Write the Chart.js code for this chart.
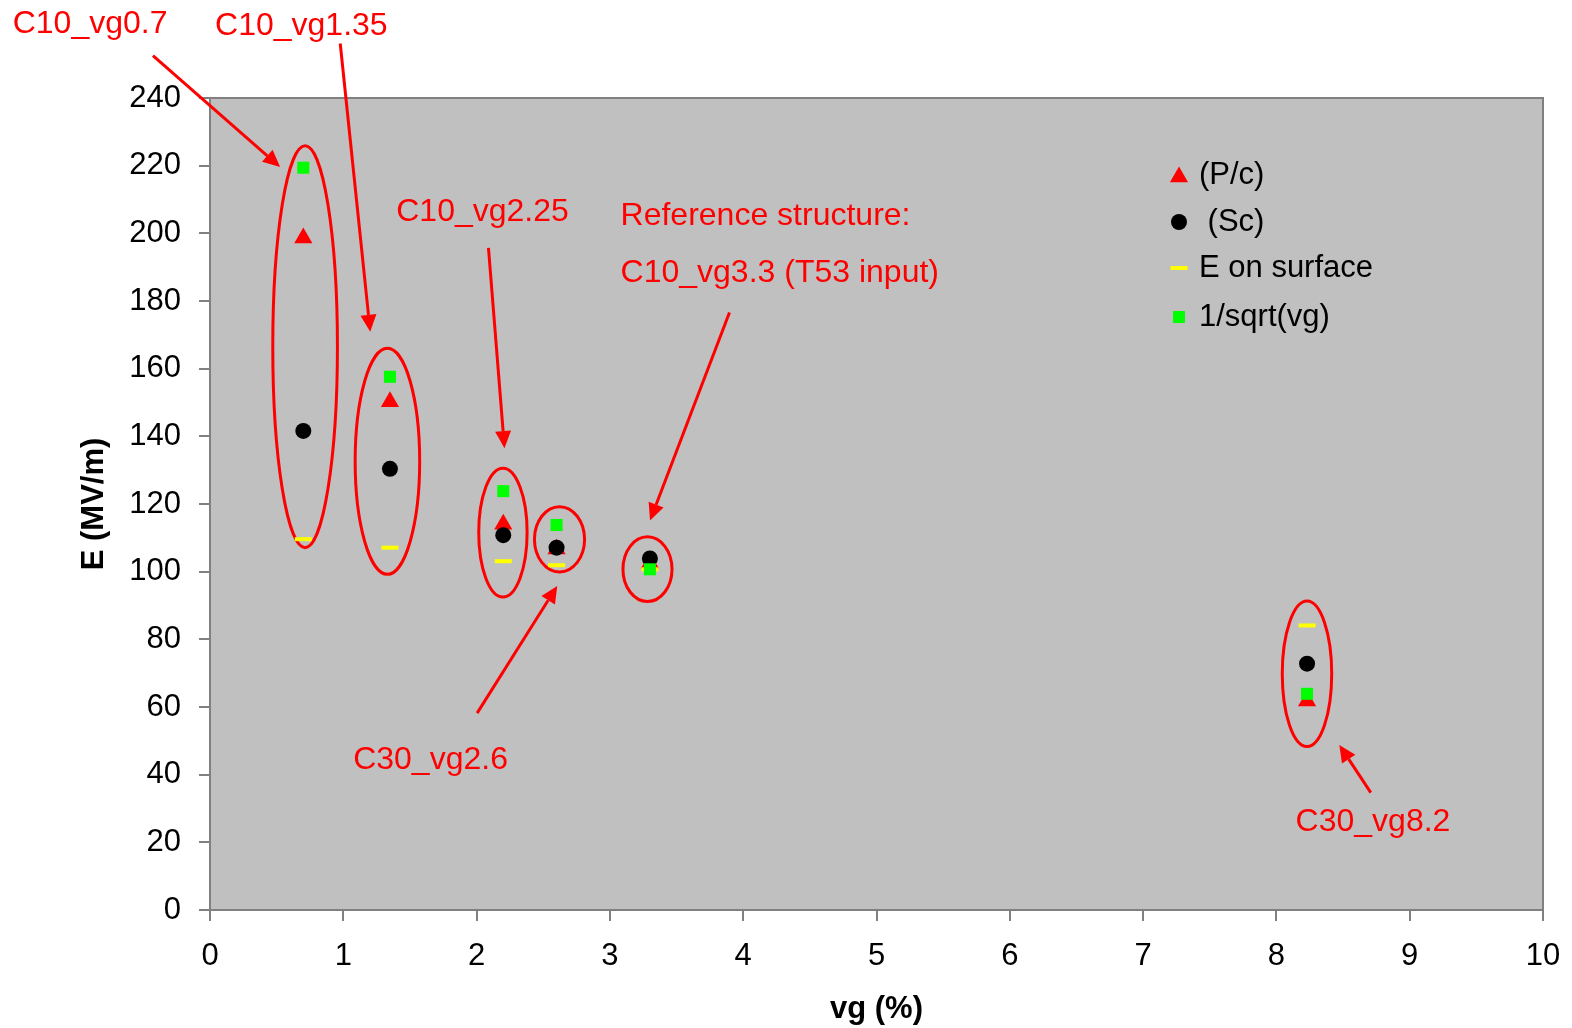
<!DOCTYPE html>
<html>
<head>
<meta charset="utf-8">
<script src="https://cdn.jsdelivr.net/npm/chart.js@4.4.0/dist/chart.umd.min.js"></script>
<style>
    html, body { margin: 0; padding: 0; background: #fff; }
</style>
</head>
<body>
<canvas id="chart" width="1572" height="1028"></canvas>
<script>
// ---- data ----
const VG = [0.7, 1.35, 2.2, 2.6, 3.3, 8.23];
const E_PC = [198.6, 150.2, 114.0, 106.7, 102.5, 61.8];
const E_SC = [141.6, 130.4, 110.8, 107.1, 103.9, 72.8];
const E_SURFACE = [109.6, 107.1, 103.1, 101.9, 100.7, 84.1];
const E_SQRT = [219.4, 157.6, 123.8, 113.8, 100.7, 63.9];
const SERIES_LABELS = ['(P/c)', ' (Sc)', 'E on surface', '1/sqrt(vg)'];

const X_MIN = 0, X_MAX = 10, X_STEP = 1;
const Y_MIN = 0, Y_MAX = 240, Y_STEP = 20;

// ---- annotations, in data units ----
// ellipses: [xLeft, xRight, yTop, yBottom]
const ELLIPSES = [
    [0.471, 0.956, 225.9, 107.1],
    [1.089, 1.573, 166.0, 99.2],
    [2.016, 2.379, 130.6, 92.5],
    [2.434, 2.810, 119.2, 99.9],
    [3.098, 3.466, 110.3, 91.2],
    [8.044, 8.415, 91.3, 48.3],
];
// arrows: [xTail, yTail, xTip, yTip]
const ARROWS = [
    [-0.428, 252.5, 0.526, 219.6],
    [0.977, 256.1, 1.202, 170.9],
    [2.089, 195.7, 2.209, 136.5],
    [3.897, 176.6, 3.301, 115.1],
    [2.004, 58.2, 2.605, 95.8],
    [8.708, 34.7, 8.472, 48.8],
];
// notes: [text, xLeft, yMiddle]
const NOTES = [
    ['C10_vg0.7', -1.48, 261.8],
    ['C10_vg1.35', 0.038, 261.3],
    ['C10_vg2.25', 1.397, 206.4],
    ['Reference structure:', 3.080, 205.2],
    ['C10_vg3.3 (T53 input)', 3.080, 188.2],
    ['C30_vg2.6', 1.074, 44.2],
    ['C30_vg8.2', 8.144, 26.1],
];

const FONT = "'Liberation Sans', Arial, sans-serif";
const RED = '#ff0000';
const AXIS_GREY = '#808080';

Chart.defaults.font.family = FONT;
Chart.defaults.color = '#000';

function toPoints(ys) {
    return VG.map((x, i) => ({ x: x, y: ys[i] }));
}

// grey plot area with frame
const plotBackground = {
    id: 'plotBackground',
    beforeDraw(chart) {
        const { ctx, chartArea: a } = chart;
        ctx.save();
        ctx.fillStyle = '#c0c0c0';
        ctx.fillRect(a.left, a.top, a.right - a.left, a.bottom - a.top);
        ctx.restore();
    },
    beforeDatasetsDraw(chart) {
        const { ctx, chartArea: a } = chart;
        const xs = chart.scales.x, ys = chart.scales.y;
        ctx.save();
        ctx.strokeStyle = AXIS_GREY;
        ctx.lineWidth = 2;
        ctx.strokeRect(a.left, a.top, a.right - a.left, a.bottom - a.top);
        // ellipses round the groups
        ctx.strokeStyle = RED;
        ctx.lineWidth = 3;
        ELLIPSES.forEach(([x1, x2, y1, y2]) => {
            const l = xs.getPixelForValue(x1), r = xs.getPixelForValue(x2);
            const t = ys.getPixelForValue(y1), b = ys.getPixelForValue(y2);
            ctx.beginPath();
            ctx.ellipse((l + r) / 2, (t + b) / 2, (r - l) / 2, (b - t) / 2, 0, 0, Math.PI * 2);
            ctx.stroke();
        });
        ctx.restore();
    },
};

// arrows, red notes and the legend inside the plot
const annotations = {
    id: 'annotations',
    afterDraw(chart) {
        const ctx = chart.ctx;
        const xs = chart.scales.x, ys = chart.scales.y;
        ctx.save();
        ctx.strokeStyle = RED;
        ctx.fillStyle = RED;
        ctx.lineWidth = 3;
        ARROWS.forEach(([x0, y0, x1, y1]) => {
            const ax = xs.getPixelForValue(x0), ay = ys.getPixelForValue(y0);
            const bx = xs.getPixelForValue(x1), by = ys.getPixelForValue(y1);
            const ang = Math.atan2(by - ay, bx - ax);
            const head = 17, half = 8;
            const hx = bx - Math.cos(ang) * head, hy = by - Math.sin(ang) * head;
            ctx.beginPath();
            ctx.moveTo(ax, ay);
            ctx.lineTo(hx, hy);
            ctx.stroke();
            ctx.beginPath();
            ctx.moveTo(bx, by);
            ctx.lineTo(hx + Math.sin(ang) * half, hy - Math.cos(ang) * half);
            ctx.lineTo(hx - Math.sin(ang) * half, hy + Math.cos(ang) * half);
            ctx.closePath();
            ctx.fill();
        });

        ctx.font = '32px ' + FONT;
        ctx.textAlign = 'left';
        ctx.textBaseline = 'middle';
        NOTES.forEach(([text, x, y]) => {
            ctx.fillText(text, xs.getPixelForValue(x), ys.getPixelForValue(y));
        });

        // legend
        const rows = [177, 222, 268, 317];
        const markX = 1179, textX = 1199;
        ctx.font = '31px ' + FONT;
        chart.data.datasets.forEach((ds, i) => {
            ctx.fillStyle = ds.backgroundColor;
            ctx.strokeStyle = ds.borderColor;
            ctx.lineWidth = ds.borderWidth;
            Chart.helpers.drawPoint(ctx, {
                pointStyle: ds.pointStyle,
                radius: ds.pointRadius,
                rotation: 0,
                borderWidth: ds.borderWidth,
            }, markX, rows[i]);
            ctx.fillStyle = '#000';
            ctx.fillText(ds.label, textX, i === 0 ? rows[i] - 2 : rows[i]);
        });
        ctx.restore();
    },
};

new Chart(document.getElementById('chart'), {
    type: 'scatter',
    data: {
        datasets: [
            {
                label: SERIES_LABELS[0],
                data: toPoints(E_PC),
                pointStyle: 'triangle',
                pointRadius: 10.5,
                backgroundColor: '#ff0000',
                borderColor: '#ff0000',
                borderWidth: 0,
                order: 4,
            },
            {
                label: SERIES_LABELS[1],
                data: toPoints(E_SC),
                pointStyle: 'circle',
                pointRadius: 8,
                backgroundColor: '#000000',
                borderColor: '#000000',
                borderWidth: 0,
                order: 3,
            },
            {
                label: SERIES_LABELS[2],
                data: toPoints(E_SURFACE),
                pointStyle: 'line',
                pointRadius: 8.5,
                backgroundColor: '#ffff00',
                borderColor: '#ffff00',
                borderWidth: 4,
                order: 2,
            },
            {
                label: SERIES_LABELS[3],
                data: toPoints(E_SQRT),
                pointStyle: 'rect',
                pointRadius: 8.5,
                backgroundColor: '#00ff00',
                borderColor: '#00ff00',
                borderWidth: 0,
                order: 1,
            },
        ],
    },
    options: {
        responsive: false,
        animation: false,
        events: [],
        layout: { padding: { left: 76, top: 98, right: 29, bottom: 0 } },
        plugins: {
            legend: { display: false },
            tooltip: { enabled: false },
        },
        scales: {
            x: {
                type: 'linear',
                min: X_MIN,
                max: X_MAX,
                ticks: { stepSize: X_STEP, padding: 17, font: { size: 31 }, color: '#000' },
                grid: { drawOnChartArea: false, drawTicks: true, tickLength: 11, color: AXIS_GREY, lineWidth: 2 },
                border: { display: true, color: '#404040', width: 2 },
                title: {
                    display: true,
                    text: 'vg (%)',
                    color: '#000',
                    font: { size: 31, weight: 'bold' },
                    padding: { top: 0, bottom: 0 },
                },
                afterFit(scale) {
                    scale.height = 118;
                    scale.paddingRight = 0;
                },
            },
            y: {
                type: 'linear',
                min: Y_MIN,
                max: Y_MAX,
                ticks: { stepSize: Y_STEP, padding: 18, font: { size: 31 }, color: '#000' },
                grid: { drawOnChartArea: false, drawTicks: true, tickLength: 11, color: AXIS_GREY, lineWidth: 2 },
                border: { display: true, color: AXIS_GREY, width: 2 },
                title: {
                    display: true,
                    text: 'E (MV/m)',
                    color: '#000',
                    font: { size: 31, weight: 'bold' },
                    padding: { top: 0, bottom: 0 },
                },
                afterFit(scale) { scale.width = 134; },
            },
        },
    },
    plugins: [plotBackground, annotations],
});
</script>
</body>
</html>
